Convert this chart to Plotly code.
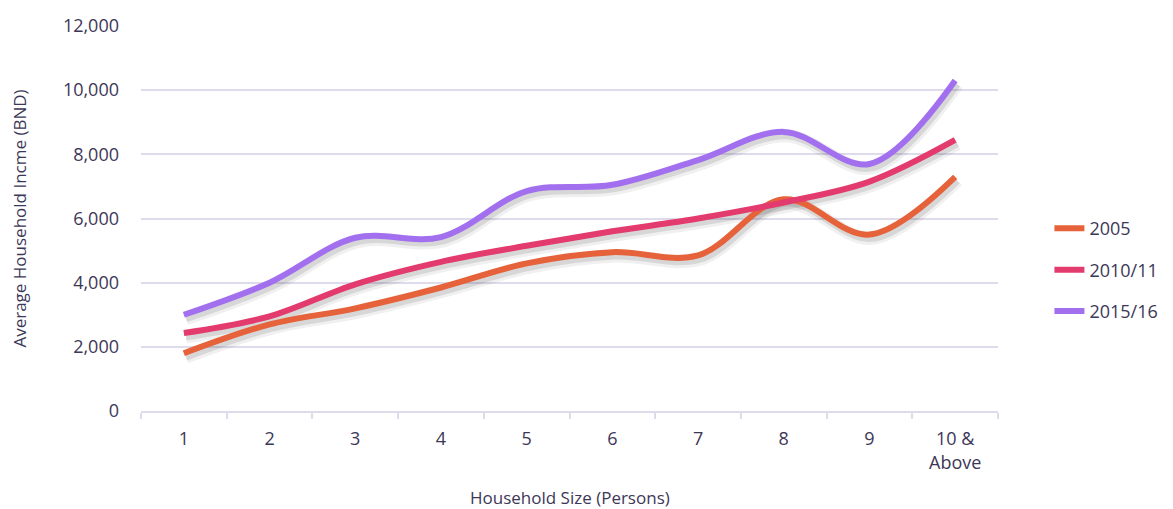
import plotly.graph_objects as go

categories = ["1", "2", "3", "4", "5", "6", "7", "8", "9", "10 &<br>Above"]
series_names = ["2005", "2010/11", "2015/16"]
v2005 = [1800, 2700, 3200, 3850, 4600, 4950, 4850, 6600, 5500, 7300]
v2010 = [2430, 2950, 3950, 4650, 5150, 5600, 6000, 6500, 7150, 8450]
v2015 = [3000, 4000, 5400, 5420, 6850, 7050, 7820, 8700, 7700, 10300]
colors = ["#E5623B", "#E33B6D", "#A270EE"]

FONT = "Open Sans"
TXT = "#3D3757"
GRID = "#DEDCEC"

fig = go.Figure()
values = [v2005, v2010, v2015]

# soft shadows on base axes (drawn below the lines)
for vals in values:
    fig.add_trace(go.Scatter(x=categories, y=vals, mode="lines",
                             line=dict(color="rgba(40,40,40,0.07)", width=13, shape="spline", smoothing=1.0),
                             showlegend=False, hoverinfo="skip", xaxis="x", yaxis="y"))
    fig.add_trace(go.Scatter(x=categories, y=vals, mode="lines",
                             line=dict(color="rgba(40,40,40,0.12)", width=7, shape="spline", smoothing=1.0),
                             showlegend=False, hoverinfo="skip", xaxis="x", yaxis="y"))
# main lines on overlay axes
for i, (name, vals) in enumerate(zip(series_names, values)):
    fig.add_trace(go.Scatter(x=categories, y=vals, mode="lines", name=name,
                             legendgroup=name,
                             line=dict(color=colors[i], width=6, shape="spline", smoothing=1.0),
                             xaxis="x2", yaxis="y2"))

fig.update_layout(
    width=1157, height=501,
    margin=dict(l=133, r=167, t=18, b=98, autoexpand=False),
    paper_bgcolor="white", plot_bgcolor="white",
    font=dict(family=FONT, size=18, color=TXT),
    xaxis=dict(type="category", range=[-0.525, 9.475], visible=False, automargin=False),
    yaxis=dict(range=[120, 12120], visible=False, automargin=False),
    xaxis2=dict(type="category", overlaying="x", range=[-0.5, 9.5], anchor="y2", automargin=False,
                showgrid=False, showline=True, linecolor=GRID, linewidth=1.5,
                ticks="outside", tickson="boundaries", ticklen=6, tickcolor=GRID, tickwidth=1.5,
                tickfont=dict(size=18, color=TXT), ticklabelstandoff=11),
    yaxis2=dict(overlaying="y", range=[0, 12000], anchor="x2", side="left", automargin=False,
                showgrid=True, gridcolor=GRID, gridwidth=1.5, zeroline=False,
                tickvals=[0, 2000, 4000, 6000, 8000, 10000, 12000],
                ticktext=["0", "2,000", "4,000", "6,000", "8,000", "10,000", "12,000"],
                tickfont=dict(size=18, color=TXT), ticks="", ticklabelstandoff=21,
                title=dict(text="Average Household Incme (BND)", font=dict(size=17, color=TXT), standoff=32)),
    legend=dict(x=1.06, y=0.366, xanchor="left", yanchor="middle",
                font=dict(size=18, color=TXT), tracegroupgap=15, bgcolor="rgba(0,0,0,0)"),
    annotations=[dict(text="Household Size (Persons)", xref="paper", yref="paper",
                      x=0.5, y=-0.2234, xanchor="center", yanchor="middle", showarrow=False,
                      font=dict(size=17, color=TXT))],
    showlegend=True,
)

fig.write_html("out.html")
